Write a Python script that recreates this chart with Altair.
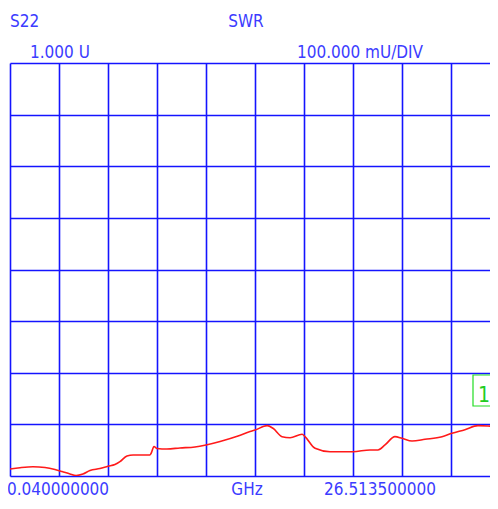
import altair as alt
import pandas as pd

# Trace: frequency (GHz) vs SWR
freq = [0.04, 0.58, 1.28, 1.93, 2.47, 2.85, 3.28, 3.61, 3.98, 4.36, 4.90, 5.33, 5.71, 5.98,
        6.36, 6.69, 7.60, 7.66, 7.82, 7.98, 8.52, 9.22, 10.03, 10.63, 11.39, 12.36, 13.01,
        13.28, 13.93, 14.25, 14.74, 15.17, 15.82, 15.98, 16.52, 17.33, 18.57, 19.49, 19.92,
        20.30, 20.84, 21.22, 21.76, 22.46, 23.38, 23.92, 24.62, 25.32, 25.87, 26.41]
swr = [1.0136, 1.0161, 1.018, 1.0165, 1.0126, 1.0087, 1.0039, 1.001, 1.0039, 1.0107, 1.0145,
       1.0188, 1.0223, 1.0277, 1.0388, 1.0407, 1.0407, 1.0436, 1.0572, 1.0533, 1.0523, 1.0543,
       1.0562, 1.0601, 1.0669, 1.0775, 1.0862, 1.0891, 1.0975, 1.0924, 1.0762, 1.0742, 1.0808,
       1.0762, 1.0537, 1.0471, 1.0471, 1.0504, 1.0504, 1.0601, 1.0762, 1.0731, 1.0678, 1.0711,
       1.0762, 1.0828, 1.0897, 1.0975, 1.0969, 1.0936]

start_ghz = 0.04
stop_ghz = 26.5135
divs_x = 10
ref_value = 1.0
per_div = 0.1
divs_y = 8

step_x = (stop_ghz - start_ghz) / divs_x
x_grid = [start_ghz + k * step_x for k in range(divs_x + 1)]
y_grid = [round(ref_value + k * per_div, 3) for k in range(divs_y + 1)]

# visible window shows less than the full span (right border off-screen)
PLOT_W = 480
x_max = start_ghz + (stop_ghz - start_ghz) * PLOT_W / 490

df = pd.DataFrame({"freq": freq, "swr": swr})

BLUE = "#1414ff"
TXT = "#3c3cff"
FONT = "DejaVu Sans Condensed, DejaVu Sans, sans-serif"
FS = 17

xs = alt.Scale(domain=[start_ghz, x_max], nice=False, zero=False)
ys = alt.Scale(domain=[y_grid[0], y_grid[-1]], nice=False, zero=False)

trace = alt.Chart(df).mark_line(color="#ff1a1a", strokeWidth=1.6, clip=True,
                                interpolate="monotone").encode(
    x=alt.X("freq:Q", scale=xs,
            axis=alt.Axis(values=x_grid, grid=True, labels=False, ticks=False,
                          domain=False, title=None, gridColor=BLUE, gridOpacity=1,
                          gridWidth=1.6)),
    y=alt.Y("swr:Q", scale=ys,
            axis=alt.Axis(values=y_grid, grid=True, labels=False, ticks=False,
                          domain=False, title=None, gridColor=BLUE, gridOpacity=1,
                          gridWidth=1.6)),
)

def label(txt, x, y, color=TXT, align="center", size=FS):
    return alt.Chart(pd.DataFrame({"t": [txt]})).mark_text(
        font=FONT, fontSize=size, color=color, align=align, baseline="alphabetic"
    ).encode(text="t:N", x=alt.value(x), y=alt.value(y))

channel = "S22"
fmt = "SWR"
ref_txt = "1.000 U"
scale_txt = "100.000 mU/DIV"
start_txt = "0.040000000"
unit_txt = "GHz"
stop_txt = "26.513500000"
marker_txt = "1"

labels = [
    label(channel, 0, -36, align="left"),
    label(fmt, 236, -36),
    label(ref_txt, 20, -5, align="left"),
    label(scale_txt, 350, -5),
    label(start_txt, 48, 432),
    label(unit_txt, 237, 432),
    label(stop_txt, 370, 432),
]

marker_box = alt.Chart(pd.DataFrame({"a": [0]})).mark_rect(
    fill=None, stroke="#22dd22", strokeWidth=1.2
).encode(x=alt.value(463), x2=alt.value(487), y=alt.value(312), y2=alt.value(343))
marker_label = label(marker_txt, 474, 339, color="#22cc22", size=21)

chart = alt.layer(trace, *labels, marker_box, marker_label).properties(
    width=PLOT_W, height=413,
    autosize=alt.AutoSizeParams(type="none"),
    padding={"left": 2, "top": 55, "right": 0, "bottom": 25},
    background="white",
).configure_view(stroke=None)

chart.save("out.html", embed_options={"renderer": "svg", "actions": False})
